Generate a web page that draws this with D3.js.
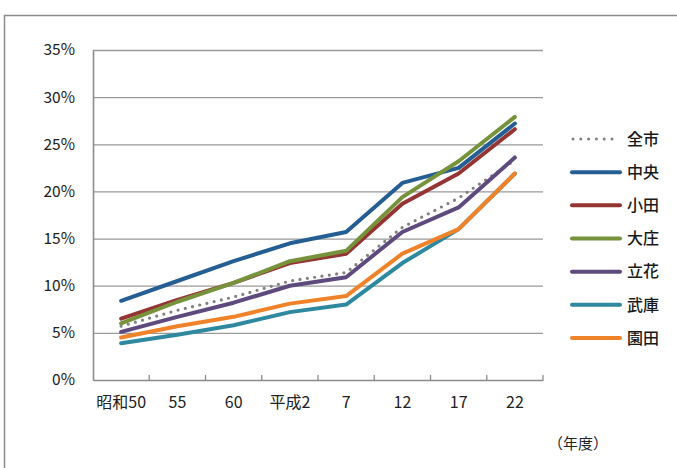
<!DOCTYPE html>
<html>
<head>
<meta charset="utf-8">
<script src="https://cdn.jsdelivr.net/npm/d3@7/dist/d3.min.js"></script>
<style>
  html, body { margin: 0; padding: 0; background: #fff; }
  svg { display: block; }
  text { font-family: "Noto Sans CJK JP", "Noto Sans", sans-serif; }
</style>
</head>
<body>
<svg id="chart" width="677" height="468"></svg>
<script>
// 年度（横軸）
const years = ["昭和50", "55", "60", "平成2", "7", "12", "17", "22"];

// 地区別の比率（%）
const zenshi = [5.7, 7.4, 8.8, 10.5, 11.4, 16.2, 19.3, 23.3];
const chuo   = [8.4, 10.5, 12.6, 14.5, 15.7, 20.9, 22.5, 27.2];
const oda    = [6.5, 8.5, 10.3, 12.4, 13.4, 18.7, 21.9, 26.6];
const daisho = [6.0, 8.3, 10.3, 12.6, 13.7, 19.4, 23.2, 27.9];
const tachibana = [5.1, 6.7, 8.2, 10.0, 10.9, 15.7, 18.3, 23.6];
const muko   = [3.9, 4.8, 5.8, 7.2, 8.0, 12.4, 16.0, 21.9];
const sonoda = [4.5, 5.7, 6.7, 8.1, 8.9, 13.4, 16.0, 21.9];

const seriesNames = ["全市", "中央", "小田", "大庄", "立花", "武庫", "園田"];
const yTicks = [0, 5, 10, 15, 20, 25, 30, 35];

const series = [
  { name: seriesNames[0], values: zenshi, color: "#808080", dotted: true },
  { name: seriesNames[1], values: chuo, color: "#245e92" },
  { name: seriesNames[2], values: oda, color: "#953533" },
  { name: seriesNames[3], values: daisho, color: "#76933c" },
  { name: seriesNames[4], values: tachibana, color: "#5e4a7c" },
  { name: seriesNames[5], values: muko, color: "#2e88a0" },
  { name: seriesNames[6], values: sonoda, color: "#f0832a" }
];

const svg = d3.select("#chart");

// 外枠
svg.append("path")
  .attr("d", "M4.5,468 L4.5,15.5 L677,15.5")
  .attr("fill", "none")
  .attr("stroke", "#8c8c8c")
  .attr("stroke-width", 1.5);

const plot = { left: 93, right: 543, top: 50, bottom: 380 };

const x = d3.scaleBand().domain(years).range([plot.left, plot.right]).padding(0);
const y = d3.scaleLinear().domain([0, 35]).range([plot.bottom, plot.top]);
const cx = d => x(d) + x.bandwidth() / 2;

// 目盛線
svg.append("g")
  .attr("transform", `translate(${plot.left},0)`)
  .call(d3.axisLeft(y).tickValues(yTicks.slice(1)).tickSize(-(plot.right - plot.left)).tickFormat(""))
  .call(g => g.select(".domain").remove())
  .call(g => g.selectAll("line").attr("stroke", "#9a9a9a").attr("stroke-width", 1.3));

// 縦軸ラベル
svg.append("g")
  .attr("transform", `translate(${plot.left},0)`)
  .call(d3.axisLeft(y).tickValues(yTicks).tickSize(0).tickPadding(18).tickFormat(d => d + "%"))
  .call(g => g.select(".domain").attr("stroke", "#8c8c8c").attr("stroke-width", 1.6))
  .call(g => g.selectAll("text")
    .attr("font-size", 15.5)
    .attr("fill", "#222")
    .style("font-family", "'Noto Sans CJK JP', sans-serif"));

// 横軸
svg.append("g")
  .attr("transform", `translate(0,${plot.bottom})`)
  .call(d3.axisBottom(x).tickSize(0).tickPadding(17))
  .call(g => g.select(".domain").attr("stroke", "#8c8c8c").attr("stroke-width", 1.6))
  .call(g => g.selectAll("text")
    .attr("font-size", 16)
    .attr("fill", "#222"));

// 区切り目盛（内向き）
const bounds = years.map(d => x(d)).slice(1).concat([plot.right]);
svg.append("g").selectAll("line")
  .data(bounds)
  .join("line")
  .attr("x1", d => d).attr("x2", d => d)
  .attr("y1", plot.bottom).attr("y2", plot.bottom - 5)
  .attr("stroke", "#8c8c8c")
  .attr("stroke-width", 1.3);

// 折れ線
const line = d3.line()
  .x((v, i) => cx(years[i]))
  .y(v => y(v));

svg.append("g").selectAll("path")
  .data(series)
  .join("path")
  .attr("d", s => line(s.values))
  .attr("fill", "none")
  .attr("stroke", s => s.color)
  .attr("stroke-width", s => s.dotted ? 3.2 : 4)
  .attr("stroke-linejoin", "round")
  .attr("stroke-linecap", "round")
  .attr("stroke-dasharray", s => s.dotted ? "0 7.4" : null);

// 凡例
const legend = svg.append("g");
const legY = d3.scalePoint().domain(seriesNames).range([139, 338]);
const items = legend.selectAll("g")
  .data(series)
  .join("g")
  .attr("transform", s => `translate(0,${legY(s.name)})`);

items.append("line")
  .attr("x1", s => s.dotted ? 573 : 572)
  .attr("x2", s => s.dotted ? 614 : 620)
  .attr("y1", 0).attr("y2", 0)
  .attr("stroke", s => s.color)
  .attr("stroke-width", s => s.dotted ? 3 : 4)
  .attr("stroke-linecap", "round")
  .attr("stroke-dasharray", s => s.dotted ? "0 7.8" : null);

items.append("text")
  .attr("x", 627)
  .attr("y", 0)
  .attr("dy", "0.36em")
  .attr("font-size", 16)
  .attr("font-weight", 500)
  .attr("fill", "#1a1a1a")
  .text(s => s.name);

// 単位
svg.append("text")
  .attr("x", 548)
  .attr("y", 449)
  .attr("font-size", 15)
  .attr("fill", "#222")
  .text("（年度）");
</script>
</body>
</html>
